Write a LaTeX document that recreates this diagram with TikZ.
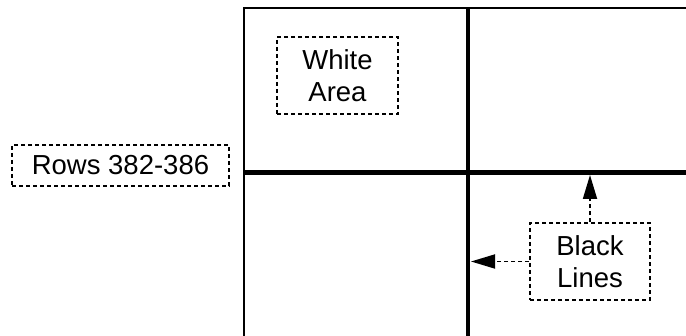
\documentclass[tikz,border=0pt]{standalone}
\usepackage{fontspec}
\setmainfont{Liberation Sans}
\usetikzlibrary{arrows.meta}

\begin{document}
\begin{tikzpicture}[x=1pt,y=-1pt,
	dashbox/.style={draw,line width=1.8pt,dash pattern=on 4pt off 3pt,align=center,inner sep=0pt,font=\fontsize{27.5}{32}\selectfont},
	pointer/.style={line width=1.8pt,dash pattern=on 4pt off 3pt,-{Triangle[length=24pt,width=14pt]}}]
			\useasboundingbox (0,0) rectangle (686,336);
			
			% frame of the image
			\draw[line width=2pt] (244,336) -- (244,8.5) -- (686,8.5);
			\draw[line width=4.8pt] (468,8.5) -- (468,336);
			\draw[line width=4.5pt] (243,172.5) -- (686,172.5);
			
			\node[dashbox,minimum width=121pt,minimum height=77pt] (white) at (337.5,75.5) {White\\Area};
			\node[dashbox,minimum width=217pt,minimum height=41pt] (rows) at (120.5,165.5) {Rows 382-386};
			\node[dashbox,minimum width=120pt,minimum height=77pt] (black) at (590,261.5) {Black\\Lines};
			
			\coordinate (hline) at (590,175);
			\coordinate (vline) at (471,261.5);
			\draw[pointer] (black.north) -- (hline);
			\draw[pointer] (black.west) -- (vline);
\end{tikzpicture}
\end{document}
